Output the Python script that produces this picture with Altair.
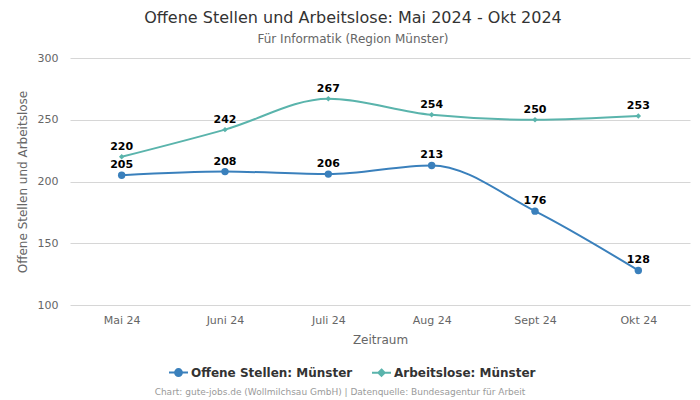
import altair as alt
import pandas as pd

months = ["Mai 24", "Juni 24", "Juli 24", "Aug 24", "Sept 24", "Okt 24"]
offene = [205, 208, 206, 213, 176, 128]
arbeitslose = [220, 242, 267, 254, 250, 253]
series = ["Offene Stellen: Münster", "Arbeitslose: Münster"]
colors = ["#3a80bc", "#5ab4ac"]
y_ticks = [100, 150, 200, 250, 300]

rows = []
for m, v in zip(months, offene):
    rows.append({"Monat": m, "Wert": v, "Serie": series[0]})
for m, v in zip(months, arbeitslose):
    rows.append({"Monat": m, "Wert": v, "Serie": series[1]})
df = pd.DataFrame(rows)

FONT = "DejaVu Sans"
W, H = 620, 247

x_enc = alt.X("Monat:N", sort=months, scale=alt.Scale(type="point", padding=0.5),
              axis=alt.Axis(title="Zeitraum", labelAngle=0, grid=False, labelPadding=9,
                            titlePadding=9))
y_enc = alt.Y("Wert:Q", scale=alt.Scale(domain=[100, 300], nice=False, zero=False),
              axis=alt.Axis(title="Offene Stellen und Arbeitslose", values=y_ticks,
                            labelPadding=12, titlePadding=8))

# legend symbols: short line with a marker in the middle
circle_path = "M-1,0H1M-0.36,0A0.36,0.36,0,1,1,0.36,0A0.36,0.36,0,1,1,-0.36,0Z"
diamond_path = "M-1,0H1M0,-0.33L0.33,0L0,0.33L-0.33,0Z"

legend = alt.Legend(orient="none", legendX=98, legendY=304, direction="horizontal",
                    title=None, labelFont=FONT, labelFontSize=12, labelFontWeight="bold",
                    labelColor="#333333", symbolSize=361, columnPadding=15,
                    labelOffset=2, symbolStrokeWidth=2, labelLimit=400)

color_enc = alt.Color("Serie:N", scale=alt.Scale(domain=series, range=colors), legend=legend)

base = alt.Chart(df).encode(x=x_enc, y=y_enc)
line = base.mark_line(interpolate="monotone", strokeWidth=2).encode(color=color_enc)
pts_a = base.transform_filter(alt.datum.Serie == series[0]).mark_point(
    filled=True, opacity=1, shape="circle", size=55).encode(color=color_enc)
pts_b = base.transform_filter(alt.datum.Serie == series[1]).mark_point(
    filled=True, opacity=1, shape="diamond", size=30).encode(color=color_enc)
# empty layer that only feeds the legend its symbol shapes
legend_feed = base.transform_filter("false").mark_point(filled=True).encode(
    color=color_enc,
    shape=alt.Shape("Serie:N", scale=alt.Scale(domain=series, range=[circle_path, diamond_path]),
                    legend=legend))
labels = base.mark_text(dy=-10, fontWeight="bold", fontSize=11, color="black",
                        font=FONT).encode(text="Wert:Q")
credit = alt.Chart(pd.DataFrame({"t": ["Chart: gute-jobs.de (Wollmilchsau GmbH) | Datenquelle: Bundesagentur für Arbeit"]})).mark_text(
    font=FONT, fontSize=9, color="#9a9a9a").encode(
    text="t:N", x=alt.value(270), y=alt.value(334))

chart = alt.layer(line, pts_a, pts_b, legend_feed, labels, credit).properties(
    width=W, height=H,
    title=alt.TitleParams(
        text="Offene Stellen und Arbeitslose: Mai 2024 - Okt 2024",
        subtitle="Für Informatik (Region Münster)",
        anchor="middle", frame="bounds", font=FONT, fontSize=16, fontWeight="normal",
        color="#333333", subtitleFont=FONT, subtitleFontSize=12,
        subtitleColor="#666666", subtitlePadding=8, offset=7),
    autosize=alt.AutoSizeParams(type="none"),
    padding={"left": 70, "top": 58, "right": 10, "bottom": 95},
).configure_view(stroke=None).configure_axis(
    domain=False, ticks=False, labelFont=FONT, titleFont=FONT, labelFontSize=11,
    titleFontSize=12, labelColor="#666666", titleColor="#666666",
    titleFontWeight="normal", gridColor="#d6d6d6")

chart.save("out.html", embed_options={"renderer": "svg", "actions": False})
